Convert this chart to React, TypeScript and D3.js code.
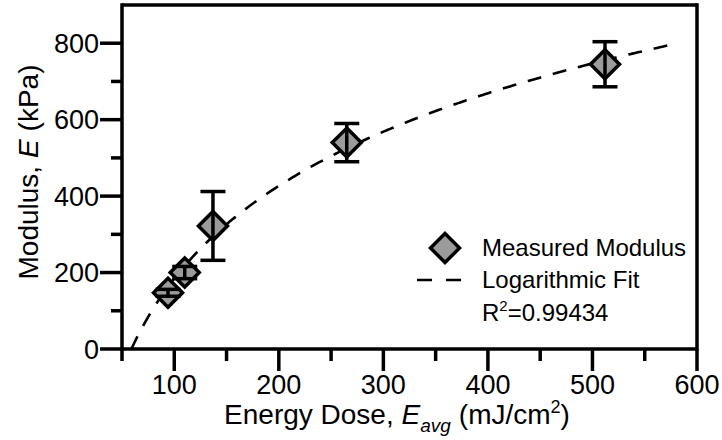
import React from "react";
import * as d3 from "d3";

const doseValues = [94, 110, 137, 265, 512];
const modulusValues = [147, 200, 322, 540, 745];
const modulusErrors = [9, 16, 90, 50, 59];
const xTicksMajor = [100, 200, 300, 400, 500, 600];
const xTicksMinor = [50, 150, 250, 350, 450, 550];
const yTicksMajor = [0, 200, 400, 600, 800];
const yTicksMinor = [100, 300, 500, 700];
const fitSlope = 349.5;
const fitIntercept = -1425;
const fitStart = 59;
const fitEnd = 580;
const legendLabels = ["Measured Modulus", "Logarithmic Fit"];
const rSquaredText = "0.99434";

const W = 722;
const H = 440;
const FONT = "'Liberation Sans', Arial, sans-serif";

export default function App() {
  const x = d3.scaleLinear().domain([50, 600]).range([122, 697]);
  const y = d3.scaleLinear().domain([0, 900]).range([349, 5]);

  const fitPts = d3.range(0, 201).map((i) => {
    const xv = fitStart + ((fitEnd - fitStart) * i) / 200;
    return [xv, fitSlope * Math.log(xv) + fitIntercept] as [number, number];
  });
  const fitLine = d3
    .line<[number, number]>()
    .x((d) => x(d[0]))
    .y((d) => y(Math.max(0, d[1])));

  const diamond = (cx: number, cy: number, r: number) =>
    `M${cx},${cy - r}L${cx + r},${cy}L${cx},${cy + r}L${cx - r},${cy}Z`;

  const axisW = 3.5;
  const x0 = x(50);
  const y0 = y(0);

  return (
    <svg
      width={W}
      height={H}
      style={{ position: "absolute", left: 0, top: 0, background: "#fff" }}
      fontFamily={FONT}
    >
      <rect x={0} y={0} width={W} height={H} fill="#fff" />
      {/* fit line */}
      <path
        d={fitLine(fitPts) || ""}
        fill="none"
        stroke="#000"
        strokeWidth={2.6}
        strokeDasharray="14 12"
      />
      {/* data points */}
      {doseValues.map((dv, i) => {
        const cx = x(dv);
        const cy = y(modulusValues[i]);
        const top = y(modulusValues[i] + modulusErrors[i]);
        const bot = y(modulusValues[i] - modulusErrors[i]);
        return (
          <g key={i}>
            <path d={diamond(cx, cy, 14.5)} fill="#9b9b9b" stroke="#000" strokeWidth={3.5} strokeLinejoin="miter" />
            <line x1={cx} x2={cx} y1={top} y2={bot} stroke="#000" strokeWidth={3.5} />
            <line x1={cx - 12.5} x2={cx + 12.5} y1={top} y2={top} stroke="#000" strokeWidth={3.5} />
            <line x1={cx - 12.5} x2={cx + 12.5} y1={bot} y2={bot} stroke="#000" strokeWidth={3.5} />
          </g>
        );
      })}
      {/* frame */}
      <line x1={x0} x2={697} y1={5} y2={5} stroke="#000" strokeWidth={axisW} />
      <line x1={697} x2={697} y1={5 - axisW / 2} y2={y0 + axisW / 2} stroke="#000" strokeWidth={axisW} />
      <line x1={x0} x2={x0} y1={5 - axisW / 2} y2={y0 + axisW / 2} stroke="#000" strokeWidth={axisW} />
      <line x1={x0 - axisW / 2} x2={697} y1={y0} y2={y0} stroke="#000" strokeWidth={axisW} />
      {/* y ticks */}
      {yTicksMajor.map((t) => (
        <g key={"ym" + t}>
          <line x1={x0 - 22} x2={x0} y1={y(t)} y2={y(t)} stroke="#000" strokeWidth={axisW} />
          <text x={x0 - 23} y={y(t)} dy="0.36em" textAnchor="end" fontSize={27}>
            {t}
          </text>
        </g>
      ))}
      {yTicksMinor.map((t) => (
        <line key={"yn" + t} x1={x0 - 11} x2={x0} y1={y(t)} y2={y(t)} stroke="#000" strokeWidth={axisW} />
      ))}
      {/* x ticks */}
      {xTicksMajor.map((t) => (
        <g key={"xm" + t}>
          <line x1={x(t)} x2={x(t)} y1={y0} y2={y0 + 22} stroke="#000" strokeWidth={axisW} />
          <text x={x(t)} y={394} textAnchor="middle" fontSize={27}>
            {t}
          </text>
        </g>
      ))}
      {xTicksMinor.map((t) => (
        <line key={"xn" + t} x1={x(t)} x2={x(t)} y1={y0} y2={y0 + 12} stroke="#000" strokeWidth={axisW} />
      ))}
      {/* axis titles */}
      <text x={397} y={424} textAnchor="middle" fontSize={28}>
        Energy Dose, <tspan fontStyle="italic">E</tspan>
        <tspan fontSize={19} fontStyle="italic" dy={8}>avg</tspan>
        <tspan dy={-8} dx={8}>{"(mJ/cm"}</tspan>
        <tspan fontSize={18} dy={-11}>2</tspan>
        <tspan dy={11}>)</tspan>
      </text>
      <text transform="translate(38,172) rotate(-90)" textAnchor="middle" fontSize={28}>
        Modulus, <tspan fontStyle="italic">E</tspan>
        <tspan dx={8}>{"(kPa)"}</tspan>
      </text>
      {/* legend */}
      <path d={diamond(445, 248, 14.5)} fill="#9b9b9b" stroke="#000" strokeWidth={3.5} />
      <line x1={417} x2={461} y1={280} y2={280} stroke="#000" strokeWidth={2.6} strokeDasharray="15 14" />
      <text x={482} y={256} fontSize={24}>{legendLabels[0]}</text>
      <text x={482} y={288} fontSize={24}>{legendLabels[1]}</text>
      <text x={482} y={321} fontSize={24}>
        R<tspan fontSize={15} dy={-10}>2</tspan>
        <tspan dy={10}>={rSquaredText}</tspan>
      </text>
    </svg>
  );
}
